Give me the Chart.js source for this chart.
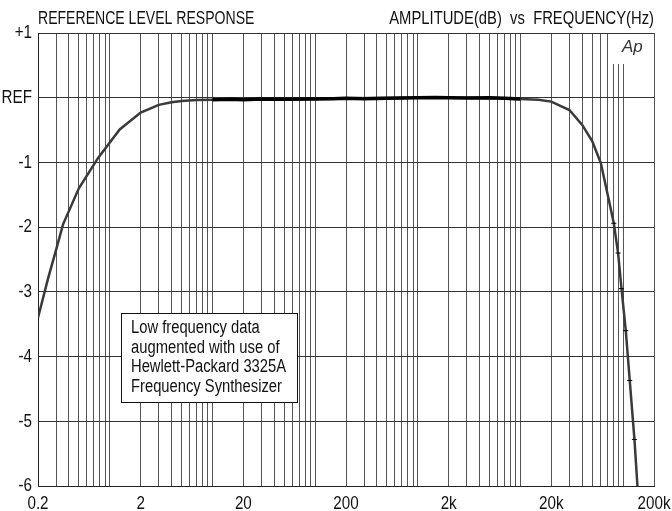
<!DOCTYPE html>
<html>
<head>
<meta charset="utf-8">
<script src="https://cdn.jsdelivr.net/npm/chart.js@4.4.1/dist/chart.umd.min.js"></script>
<style>
  html, body { margin: 0; padding: 0; background: #fff; }
  canvas { display: block; }
</style>
</head>
<body>
<canvas id="c" width="672" height="511"></canvas>
<script>
// ---- data ----
const freqHz  = [0.2, 0.25, 0.3, 0.35, 0.5, 0.77, 1.25, 2, 3, 4, 5, 7, 10, 20, 50, 100, 200, 500, 1000, 2000, 5000, 10000, 15000, 20000, 30000, 40000, 50000, 60700, 71500, 81200, 89400, 96500, 106200, 116100, 129000, 138000];
const levelDb = [-3.40, -2.80, -2.35, -1.96, -1.40, -0.93, -0.49, -0.23, -0.11, -0.07, -0.05, -0.035, -0.03, -0.025, -0.02, -0.015, -0.01, -0.005, 0, 0, -0.005, -0.02, -0.03, -0.06, -0.19, -0.42, -0.67, -1.01, -1.53, -1.94, -2.40, -2.95, -3.60, -4.37, -5.28, -6.0];
// heavier overlapping sweep in the flat band
const flatHz  = [10, 15, 20, 30, 50, 100, 150, 200, 300, 500, 700, 1000, 1500, 2000, 3000, 5000, 7000, 10000];
const flatDb  = [-0.03, -0.025, -0.03, -0.02, -0.025, -0.02, -0.015, -0.01, -0.015, -0.01, -0.005, 0, 0.005, 0, -0.005, 0, -0.01, -0.02];

const xTickValues = [0.2, 2, 20, 200, 2000, 20000, 200000];
const xTickLabels = ['0.2', '2', '20', '200', '2k', '20k', '200k'];
const yTickValues = [1, 0, -1, -2, -3, -4, -5, -6];
const yTickLabels = ['+1', 'REF', '-1', '-2', '-3', '-4', '-5', '-6'];

const titleLeft  = 'REFERENCE LEVEL RESPONSE';
const titleRight = 'AMPLITUDE(dB)  vs  FREQUENCY(Hz)';
const noteLines  = ['Low frequency data', 'augmented with use of', 'Hewlett-Packard 3325A', 'Frequency Synthesizer'];
const logoText   = 'Ap';

// log grid: 1..9 x each decade, from 0.2 to 200k
const gridHz = [];
for (let e = -1; e <= 5; e++) {
  for (let m = 1; m <= 9; m++) {
    const v = +(m * Math.pow(10, e)).toPrecision(3);
    if (v >= 0.2 && v <= 200000) gridHz.push(v);
  }
}
gridHz.push(200000);

const FONT = '"Liberation Sans", Arial, sans-serif';
function narrowText(ctx, text, x, y, align, size, baseline, squeeze) {
  const k = squeeze || 0.82;
  ctx.save();
  ctx.font = size + 'px ' + FONT;
  ctx.textBaseline = baseline || 'alphabetic';
  ctx.textAlign = 'left';
  const w = ctx.measureText(text).width * k;
  const left = align === 'right' ? x - w : align === 'center' ? x - w / 2 : x;
  ctx.translate(left, y);
  ctx.scale(k, 1);
  ctx.fillStyle = '#111';
  ctx.fillText(text, 0, 0);
  ctx.restore();
}

const decorPlugin = {
  id: 'decor',
  beforeDatasetsDraw(chart) {
    const ctx = chart.ctx, a = chart.chartArea, xs = chart.scales.x;
    // clear space under logo
    const x0 = xs.getPixelForValue(75000);
    ctx.save();
    ctx.fillStyle = '#fff';
    ctx.fillRect(x0, a.top + 1, a.right - 1 - x0, 30);
    ctx.restore();
  },
  afterDatasetsDraw(chart) {
    const ctx = chart.ctx;
    // annotation box
    ctx.save();
    ctx.fillStyle = '#fff';
    ctx.fillRect(121, 313, 176, 89);
    ctx.strokeStyle = '#111';
    ctx.lineWidth = 1;
    ctx.strokeRect(121.5, 313.5, 176, 89);
    ctx.restore();
    noteLines.forEach((t, i) => narrowText(ctx, t, 131, 333 + i * 19.7, 'left', 18));
  },
  afterDraw(chart) {
    const ctx = chart.ctx, a = chart.chartArea, xs = chart.scales.x, ys = chart.scales.y;
    narrowText(ctx, titleLeft, a.left, 24, 'left', 19, 'alphabetic', 0.74);
    narrowText(ctx, titleRight, a.right, 24, 'right', 18.5, 'alphabetic', 0.8);
    yTickValues.forEach((v, i) => narrowText(ctx, yTickLabels[i], a.left - 6, ys.getPixelForValue(v), 'right', 19, 'middle', 0.8));
    xTickValues.forEach((v, i) => narrowText(ctx, xTickLabels[i], xs.getPixelForValue(v), 509, 'center', 19, 'alphabetic', 0.8));
    // logo
    ctx.save();
    ctx.font = 'italic 17px ' + FONT;
    ctx.fillStyle = '#333';
    ctx.textAlign = 'left';
    ctx.textBaseline = 'alphabetic';
    ctx.fillText(logoText, 622, 52);
    ctx.restore();
  }
};

new Chart(document.getElementById('c'), {
  type: 'line',
  data: {
    datasets: [
      {
        data: flatHz.map((f, i) => ({ x: f, y: flatDb[i] })),
        borderColor: '#000',
        borderWidth: 3.5,
        pointRadius: 0,
        tension: 0,
        order: 0
      },
      {
        data: freqHz.map((f, i) => ({ x: f, y: levelDb[i] })),
        borderColor: '#3a3a3a',
        borderWidth: 2.5,
        tension: 0,
        pointStyle: 'line',
        pointRadius: c => (c.raw && c.raw.x >= 80000 && c.raw.x < 135000) ? 2.5 : 0,
        pointBorderColor: '#000',
        pointBorderWidth: 1,
        order: 1
      }
    ]
  },
  options: {
    responsive: false,
    devicePixelRatio: 1,
    animation: false,
    events: [],
    layout: { padding: { left: 38, top: 33, right: 18, bottom: 25 } },
    plugins: { legend: { display: false }, tooltip: { enabled: false } },
    scales: {
      x: {
        type: 'logarithmic',
        min: 0.2,
        max: 200000,
        afterBuildTicks: s => { s.ticks = gridHz.map(v => ({ value: v })); },
        afterFit: s => { s.height = 0; },
        ticks: { display: false },
        grid: { color: '#555', lineWidth: 1, drawTicks: false },
        border: { color: '#222', width: 1 }
      },
      y: {
        type: 'linear',
        min: -6,
        max: 1,
        afterBuildTicks: s => { s.ticks = yTickValues.map(v => ({ value: v })); },
        afterFit: s => { s.width = 0; },
        ticks: { display: false },
        grid: { color: '#333', lineWidth: 1, drawTicks: false },
        border: { color: '#222', width: 1 }
      }
    }
  },
  plugins: [decorPlugin]
});
</script>
</body>
</html>
